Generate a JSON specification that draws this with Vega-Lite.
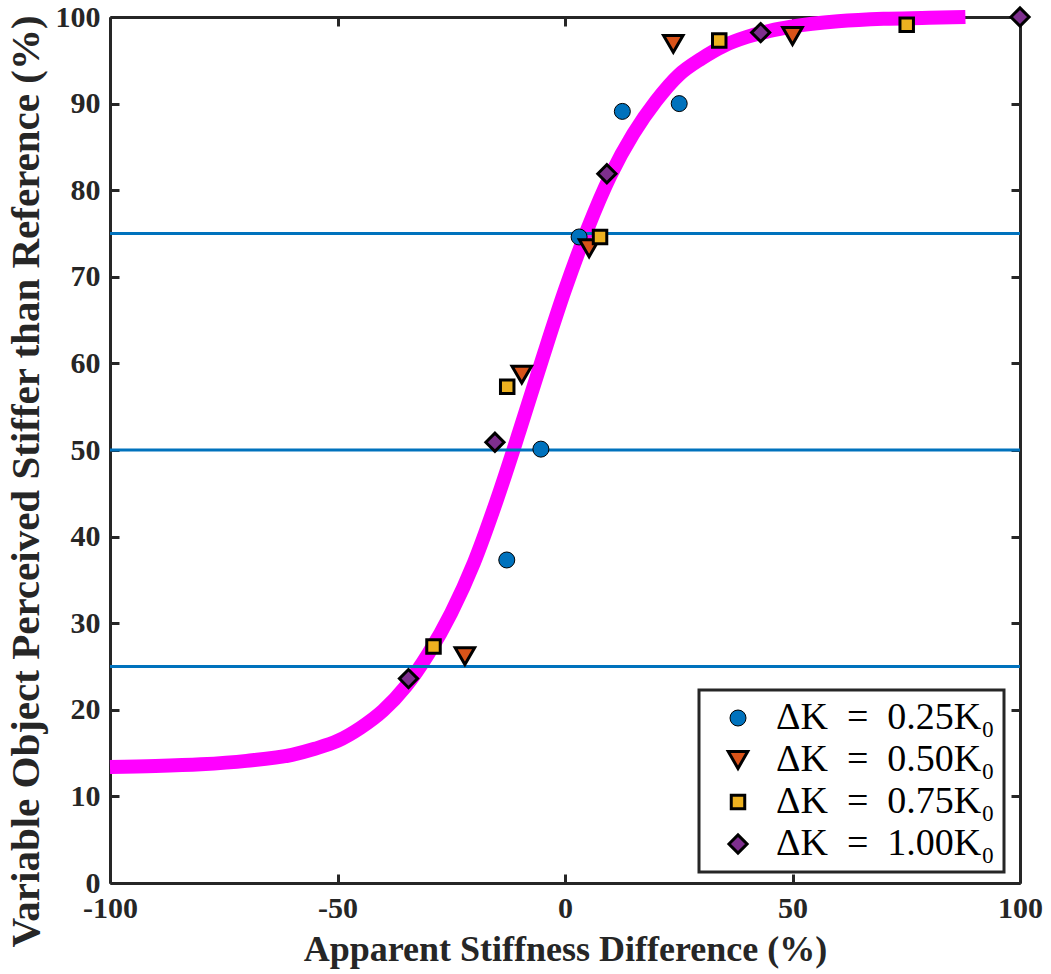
{
  "$schema": "https://vega.github.io/schema/vega-lite/v6.json",
  "width": 910,
  "height": 866,
  "autosize": {"type": "none"},
  "padding": {"left": 110, "top": 17, "right": 31, "bottom": 91},
  "background": "white",
  "config": {
    "view": {"stroke": null},
    "axis": {
      "grid": false,
      "domainColor": "#262626",
      "domainWidth": 3,
      "tickColor": "#262626",
      "tickWidth": 3,
      "tickSize": -9,
      "labelFont": "Liberation Serif",
      "labelFontWeight": "bold",
      "labelFontSize": 30,
      "labelColor": "#262626",
      "labelPadding": 19,
      "labelOverlap": false,
      "titleFont": "Liberation Serif",
      "titleFontWeight": "bold",
      "titleColor": "#262626"
    },
    "legend": {
      "orient": "none",
      "legendX": 589,
      "legendY": 673,
      "padding": 9,
      "rowPadding": 4,
      "strokeColor": "#262626",
      "strokeWidth": 3,
      "fillColor": "white",
      "labelFont": "Liberation Serif",
      "labelFontSize": 38,
      "labelColor": "black",
      "labelLimit": 400,
      "symbolOffset": 11,
      "labelOffset": 19
    }
  },
  "datasets": {
    "curve": [
      {"x": -100, "y": 13.4}, {"x": -90, "y": 13.5}, {"x": -80, "y": 13.7}, {"x": -70, "y": 14.1},
      {"x": -60, "y": 14.8}, {"x": -55, "y": 15.5}, {"x": -50, "y": 16.4}, {"x": -45, "y": 17.9},
      {"x": -40, "y": 19.9}, {"x": -35, "y": 22.7}, {"x": -30, "y": 26.5}, {"x": -25, "y": 31.2},
      {"x": -20, "y": 37.0}, {"x": -15, "y": 44.2}, {"x": -10, "y": 52.2}, {"x": -5, "y": 60.5},
      {"x": 0, "y": 68.5}, {"x": 5, "y": 75.6}, {"x": 10, "y": 81.7}, {"x": 15, "y": 86.5},
      {"x": 20, "y": 90.3}, {"x": 25, "y": 93.3}, {"x": 30, "y": 95.2}, {"x": 35, "y": 96.7},
      {"x": 40, "y": 97.7}, {"x": 45, "y": 98.4}, {"x": 50, "y": 98.9}, {"x": 60, "y": 99.5},
      {"x": 70, "y": 99.8}, {"x": 80, "y": 99.9}, {"x": 88, "y": 100}
    ],
    "levels": [{"y": 25}, {"y": 50}, {"y": 75}],
    "pts": [
      {"x": 3.1, "y": 74.6, "series": "ΔK\u2002=\u20020.25K₀"},
      {"x": -5.3, "y": 50.1, "series": "ΔK\u2002=\u20020.25K₀"},
      {"x": -12.8, "y": 37.3, "series": "ΔK\u2002=\u20020.25K₀"},
      {"x": 12.6, "y": 89.1, "series": "ΔK\u2002=\u20020.25K₀"},
      {"x": 25.1, "y": 90.0, "series": "ΔK\u2002=\u20020.25K₀"},
      {"x": 5.3, "y": 73.3, "series": "ΔK\u2002=\u20020.50K₀"},
      {"x": -9.5, "y": 58.7, "series": "ΔK\u2002=\u20020.50K₀"},
      {"x": -22.0, "y": 26.2, "series": "ΔK\u2002=\u20020.50K₀"},
      {"x": 23.8, "y": 96.9, "series": "ΔK\u2002=\u20020.50K₀"},
      {"x": 50.0, "y": 97.8, "series": "ΔK\u2002=\u20020.50K₀"},
      {"x": 7.7, "y": 74.6, "series": "ΔK\u2002=\u20020.75K₀"},
      {"x": -12.7, "y": 57.3, "series": "ΔK\u2002=\u20020.75K₀"},
      {"x": -28.9, "y": 27.3, "series": "ΔK\u2002=\u20020.75K₀"},
      {"x": 33.9, "y": 97.3, "series": "ΔK\u2002=\u20020.75K₀"},
      {"x": 75.1, "y": 99.1, "series": "ΔK\u2002=\u20020.75K₀"},
      {"x": -34.4, "y": 23.6, "series": "ΔK\u2002=\u20021.00K₀"},
      {"x": -15.4, "y": 50.9, "series": "ΔK\u2002=\u20021.00K₀"},
      {"x": 9.2, "y": 81.9, "series": "ΔK\u2002=\u20021.00K₀"},
      {"x": 43.0, "y": 98.2, "series": "ΔK\u2002=\u20021.00K₀"},
      {"x": 100, "y": 100, "series": "ΔK\u2002=\u20021.00K₀"}
    ]
  },
  "layer": [
    {
      "data": {"name": "curve"},
      "mark": {"type": "line", "color": "#FF00FF", "strokeWidth": 14, "strokeCap": "butt", "interpolate": "monotone"},
      "encoding": {
        "x": {
          "field": "x", "type": "quantitative",
          "scale": {"domain": [-100, 100], "nice": false},
          "axis": {
            "orient": "bottom",
            "values": [-100, -50, 0, 50, 100],
            "labelFlush": false,
            "labelExpr": "datum.value < 0 ? '-' + (-datum.value) : '' + datum.value",
            "title": "Apparent Stiffness Difference (%)",
            "titleFontSize": 36,
            "titleX": 455,
            "titleY": 77,
            "titleBaseline": "alphabetic",
            "titleAnchor": "middle",
            "titleAlign": "center"
          }
        },
        "y": {
          "field": "y", "type": "quantitative",
          "scale": {"domain": [0, 100], "nice": false},
          "axis": {
            "orient": "left",
            "values": [0, 10, 20, 30, 40, 50, 60, 70, 80, 90, 100],
            "labelFlush": false,
            "title": "Variable Object Perceived Stiffer than Reference (%)",
            "titleFontSize": 41,
            "titleX": -72,
            "titleY": 464,
            "titleAngle": -90,
            "titleBaseline": "alphabetic",
            "titleAlign": "center"
          }
        }
      }
    },
    {
      "data": {"name": "levels"},
      "mark": {"type": "rule", "color": "#0072BD", "strokeWidth": 3},
      "encoding": {
        "y": {"field": "y", "type": "quantitative", "scale": {"domain": [0, 100], "nice": false}, "axis": null}
      }
    },
    {
      "data": {"name": "pts"},
      "mark": {"type": "point", "filled": true, "stroke": "black", "strokeOpacity": 1, "opacity": 1},
      "encoding": {
        "x": {
          "field": "x", "type": "quantitative",
          "scale": {"domain": [-100, 100], "nice": false},
          "axis": {"orient": "top", "values": [-100, -50, 0, 50, 100], "labels": false, "title": null}
        },
        "y": {
          "field": "y", "type": "quantitative",
          "scale": {"domain": [0, 100], "nice": false},
          "axis": {"orient": "right", "values": [0, 10, 20, 30, 40, 50, 60, 70, 80, 90, 100], "labels": false, "title": null}
        },
        "color": {
          "field": "series", "type": "nominal",
          "scale": {"domain": ["ΔK\u2002=\u20020.25K₀", "ΔK\u2002=\u20020.50K₀", "ΔK\u2002=\u20020.75K₀", "ΔK\u2002=\u20021.00K₀"], "range": ["#0072BD", "#D95319", "#EDB120", "#7E2F8E"]},
          "legend": {"title": null}
        },
        "shape": {
          "field": "series", "type": "nominal",
          "scale": {"domain": ["ΔK\u2002=\u20020.25K₀", "ΔK\u2002=\u20020.50K₀", "ΔK\u2002=\u20020.75K₀", "ΔK\u2002=\u20021.00K₀"], "range": ["circle", "triangle-down", "square", "diamond"]},
          "legend": {"title": null}
        },
        "size": {
          "field": "series", "type": "nominal",
          "scale": {"type": "ordinal", "domain": ["ΔK\u2002=\u20020.25K₀", "ΔK\u2002=\u20020.50K₀", "ΔK\u2002=\u20020.75K₀", "ΔK\u2002=\u20021.00K₀"], "range": [256, 380, 182, 330]},
          "legend": {"title": null}
        },
        "strokeWidth": {
          "field": "series", "type": "nominal",
          "scale": {"type": "ordinal", "domain": ["ΔK\u2002=\u20020.25K₀", "ΔK\u2002=\u20020.50K₀", "ΔK\u2002=\u20020.75K₀", "ΔK\u2002=\u20021.00K₀"], "range": [1, 3, 3, 3]},
          "legend": {"title": null}
        }
      }
    }
  ],
  "resolve": {"axis": {"x": "independent", "y": "independent"}}
}
